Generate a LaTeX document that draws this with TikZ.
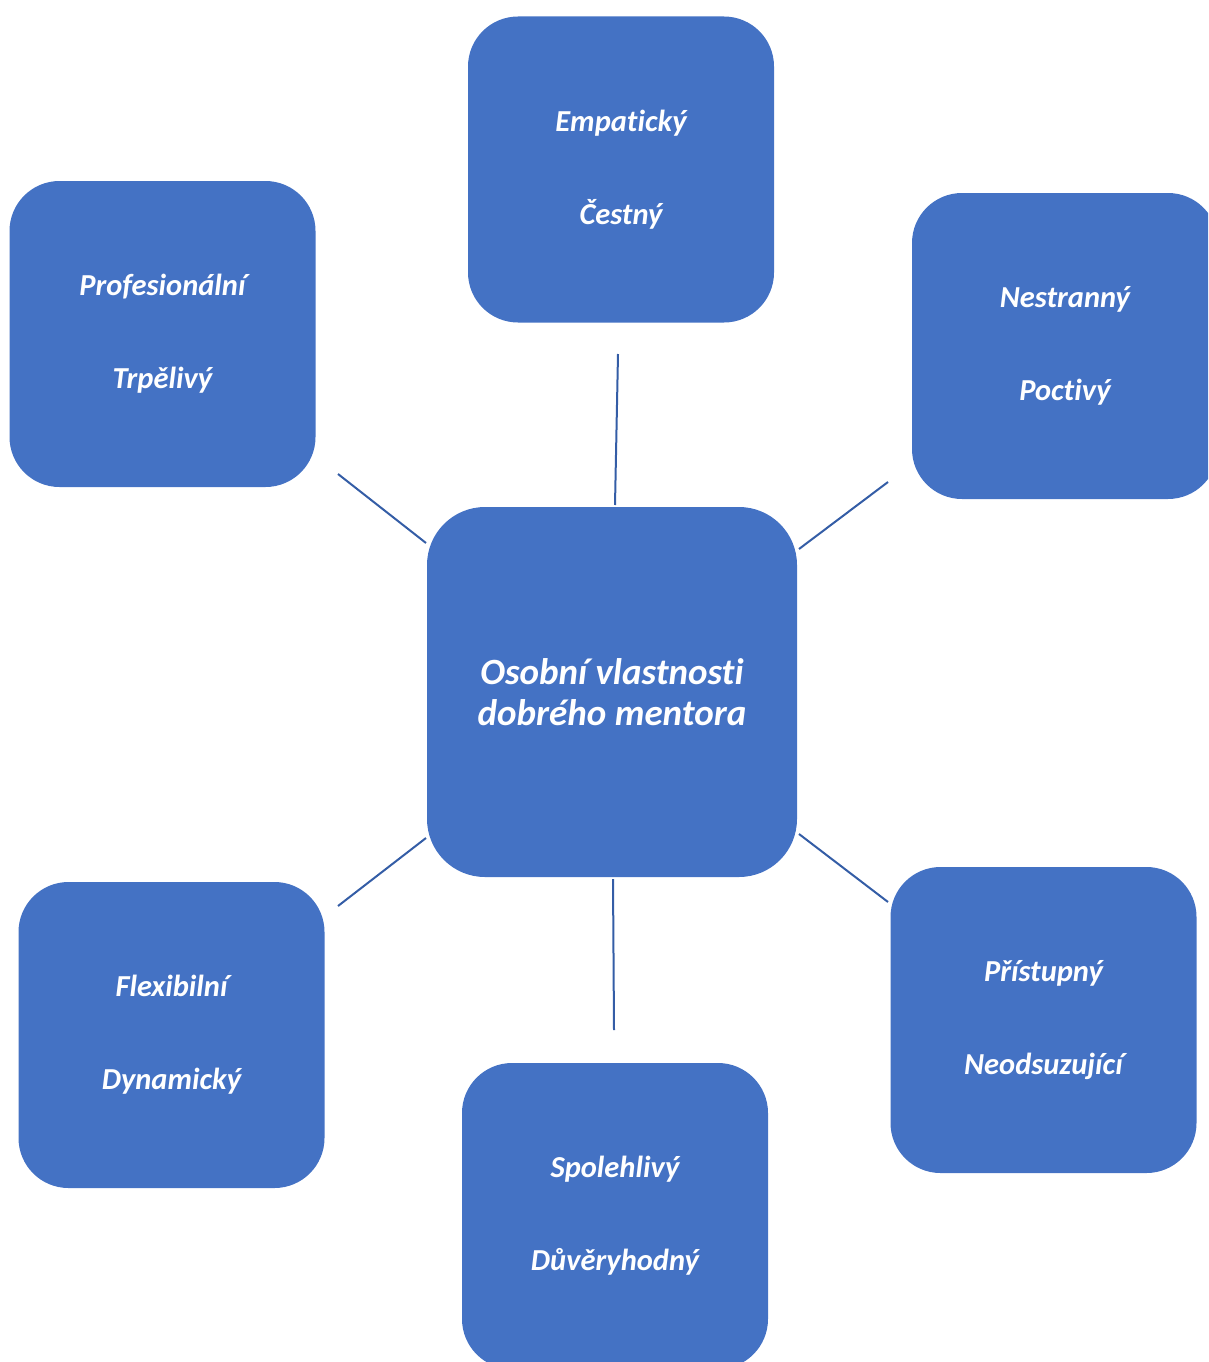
\documentclass[tikz,border=0pt]{standalone}
\usepackage{fontspec}
\setmainfont{Carlito}[Ligatures={NoCommon,NoRequired,NoContextual}]
\definecolor{boxblue}{HTML}{4472C4}
\definecolor{linkblue}{HTML}{345DA6}
\tikzset{
  trait/.style={fill=boxblue, draw=none, rounded corners=50pt, minimum width=306pt, minimum height=306pt,
    text=white, align=center, font=\fontsize{30.5}{93}\selectfont\bfseries\itshape, inner sep=0pt},
  hub/.style={fill=boxblue, draw=none, rounded corners=58pt, minimum width=370pt, minimum height=370pt,
    text=white, align=center, font=\fontsize{37}{41}\selectfont\bfseries\itshape, inner sep=0pt},
  link/.style={draw=linkblue, line width=2pt}
}
\begin{document}
\begin{tikzpicture}[x=1pt,y=-1pt]
\useasboundingbox (0,0) rectangle (1208,1362);
\clip (0,0) rectangle (1208,1362);
\node[hub] (center) at (612,692) {Osobní vlastnosti\\dobrého mentora};
\node[trait] (emp) at (621,169.5) {Empatický\\Čestný};
\node[trait] (prof) at (162.5,334) {Profesionální\\Trpělivý};
\node[trait] (nest) at (1065,346) {Nestranný\\Poctivý};
\node[trait] (flex) at (171.5,1035) {Flexibilní\\Dynamický};
\node[trait] (spol) at (615,1216) {Spolehlivý\\Důvěryhodný};
\node[trait] (pris) at (1043.5,1020) {Přístupný\\Neodsuzující};
\coordinate (a1) at (618,354);   \coordinate (a2) at (615,505);
\coordinate (b1) at (338,474);   \coordinate (b2) at (426,543);
\coordinate (c1) at (888,482);   \coordinate (c2) at (799,549);
\coordinate (d1) at (426,838);   \coordinate (d2) at (338,906);
\coordinate (e1) at (613,879);   \coordinate (e2) at (614,1030);
\coordinate (f1) at (799,834);   \coordinate (f2) at (888,902);
\draw[link] (a1) -- (a2);
\draw[link] (b1) -- (b2);
\draw[link] (c1) -- (c2);
\draw[link] (d1) -- (d2);
\draw[link] (e1) -- (e2);
\draw[link] (f1) -- (f2);
\end{tikzpicture}
\end{document}
